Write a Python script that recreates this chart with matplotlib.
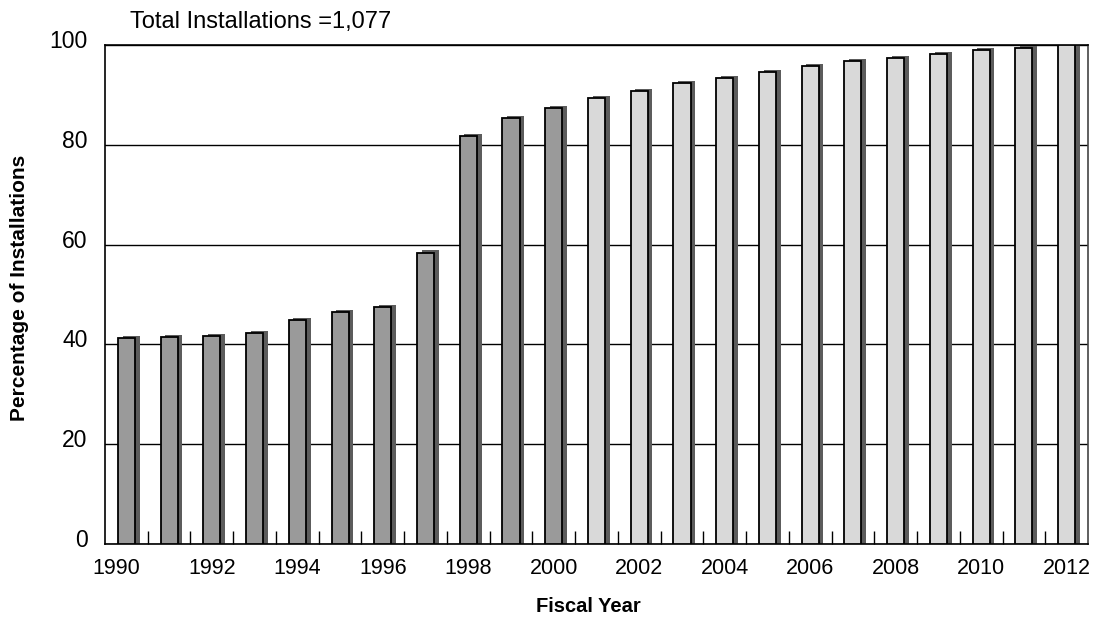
import matplotlib
matplotlib.use("Agg")
import matplotlib.pyplot as plt
import matplotlib.transforms as mtransforms
import numpy as np

years = list(range(1990, 2013))
values = [41.3, 41.5, 41.7, 42.3, 44.8, 46.4, 47.4, 58.4, 81.8, 85.4, 87.4,
          89.4, 90.8, 92.4, 93.4, 94.6, 95.8, 96.8, 97.3, 98.1, 99.0, 99.4, 99.9]
actual_last_year = 2000
title_text = "Total Installations =1,077"
xlabel_text = "Fiscal Year"
ylabel_text = "Percentage of Installations"

plt.rcParams['font.family'] = ['Liberation Sans', 'DejaVu Sans']

fig = plt.figure(figsize=(10.96, 6.2), dpi=100)
ax = fig.add_axes([105/1096, 76/620, 983/1096, 499/620])

x = np.arange(len(years))
colors = ['#9a9a9a' if y <= actual_last_year else '#d9d9d9' for y in years]

ax.bar(x + 0.11, np.array(values) + 0.45, width=0.4, color='#5c5c5c', zorder=2)
ax.bar(x, values, width=0.4, color=colors, edgecolor='black', linewidth=1.3, zorder=3)

ax.set_xlim(-0.5, len(years) - 0.5)
ax.set_ylim(0, 100)
ax.set_yticks([0, 20, 40, 60, 80, 100])
ax.yaxis.grid(True, color='black', linewidth=1.0)
ax.set_axisbelow(True)

ax.set_xticks(x[::2])
ax.set_xticklabels([str(y) for y in years[::2]])
ax.set_xticks(np.arange(0.5, len(years) - 1, 1.0), minor=True)
ax.tick_params(axis='x', which='major', length=0, pad=10, labelsize=15.5)
ax.tick_params(axis='x', which='minor', direction='in', length=9.5, width=1.0, color='black')
ax.tick_params(axis='y', length=0, pad=12.5, labelsize=16.5)

offset = mtransforms.ScaledTranslation(0, 6/100, fig.dpi_scale_trans)
for lab in ax.get_yticklabels():
    lab.set_transform(lab.get_transform() + offset)
first = ax.get_xticklabels()[0]
first.set_transform(first.get_transform() + mtransforms.ScaledTranslation(-10/100, 0, fig.dpi_scale_trans))

for s in ['left', 'bottom', 'right', 'top']:
    ax.spines[s].set_color('black')
    ax.spines[s].set_linewidth(1.2)
ax.spines['right'].set_color('#444444')

ax.set_xlabel(xlabel_text, fontsize=14.5, fontweight='bold', va='center')
ax.xaxis.set_label_coords((588 - 105)/983, (544 - 606)/499)
ax.set_ylabel(ylabel_text, fontsize=15, fontweight='bold', va='center')
ax.yaxis.set_label_coords((20 - 105)/983, (544 - 288)/499)

fig.text(130/1096, 1 - 22/620, title_text, fontsize=17, ha='left', va='center')

fig.savefig("out.png", dpi=100)
